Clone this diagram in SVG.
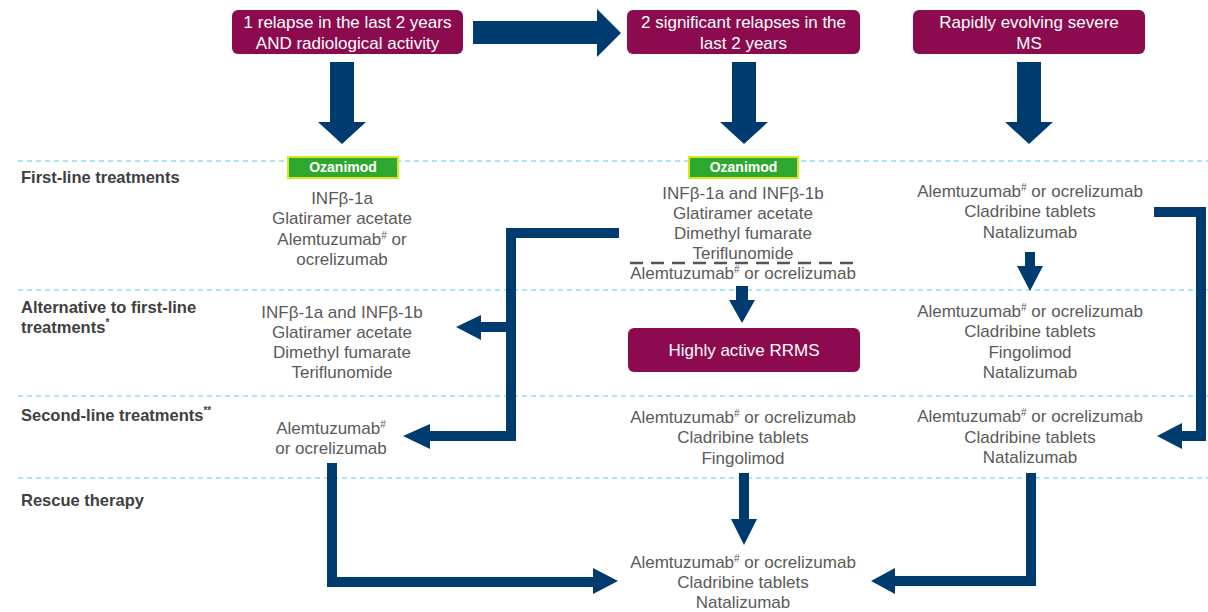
<svg xmlns="http://www.w3.org/2000/svg" width="1208" height="612" viewBox="0 0 1208 612">
<style>
.bg{fill:#ffffff}
.grid{stroke:#8fe0f0;stroke-width:1.5;stroke-dasharray:5 4;fill:none}
.hdr{fill:#8c0b4f}
.hdrt{font-family:"Liberation Sans",Arial,sans-serif;font-size:17px;fill:#ffffff;text-anchor:middle}
.lbl{font-family:"Liberation Sans",Arial,sans-serif;font-size:16.5px;font-weight:bold;fill:#404040}
.txt{font-family:"Liberation Sans",Arial,sans-serif;font-size:17px;fill:#5a5a5a;text-anchor:middle}
.sup{font-size:10px}
.oz{fill:#2ea82e;stroke:#d9e81c;stroke-width:2}
.ozt{font-family:"Liberation Sans",Arial,sans-serif;font-size:14px;font-weight:bold;fill:#ffffff;text-anchor:middle}
.arr{fill:#003b6f}
.ln{fill:none;stroke:#003b6f;stroke-width:10;stroke-linejoin:miter}
.sep{stroke:#555555;stroke-width:2.5;stroke-dasharray:13 8;fill:none}
</style>
<rect class="bg" x="0" y="0" width="1208" height="612"/>

<g id="gridlines">
<line class="grid" x1="18" y1="161" x2="1208" y2="161"/>
<line class="grid" x1="18" y1="290" x2="1208" y2="290"/>
<line class="grid" x1="18" y1="396" x2="1208" y2="396"/>
<line class="grid" x1="18" y1="478" x2="1208" y2="478"/>
</g>

<g id="row-labels">
<text class="lbl" x="21" y="183">First-line treatments</text>
<text class="lbl" x="21" y="313">Alternative to first-line</text>
<text class="lbl" x="21" y="333">treatments<tspan class="sup" dy="-7">*</tspan></text>
<text class="lbl" x="21" y="421">Second-line treatments<tspan class="sup" dy="-7">**</tspan></text>
<text class="lbl" x="21" y="506">Rescue therapy</text>
</g>

<g id="connectors">
<polygon class="arr" points="473,21 597,21 597,9 621,33 597,57 597,44 473,44"/>
<polygon class="arr" points="330,62 354,62 354,122 366,122 342,144 318,122 330,122"/>
<polygon class="arr" points="732,62 756,62 756,122 768,122 744,144 720,122 732,122"/>
<polygon class="arr" points="1017,62 1041,62 1041,122 1053,122 1029,144 1005,122 1017,122"/>
<polygon class="arr" points="736,286 748,286 748,300 755,300 742,323 729,300 736,300"/>
<polygon class="arr" points="1025,252 1035,252 1035,266 1043,266 1030,291 1017,266 1025,266"/>
<polygon class="arr" points="739,473 749,473 749,519 757,519 744,545 731,519 739,519"/>
<path class="ln" d="M619,233 H511 V436 H428"/>
<path class="ln" d="M511,327 H478"/>
<polygon class="arr" points="481,315 456,327 481,340"/>
<polygon class="arr" points="430,424 403,436 430,449"/>
<path class="ln" d="M1154,212 H1201 V436 H1180"/>
<polygon class="arr" points="1182,423 1157,436 1182,449"/>
<path class="ln" d="M332,463 V582 H595"/>
<polygon class="arr" points="593,568 618,581 593,594"/>
<path class="ln" d="M1031,473 V581 H893"/>
<polygon class="arr" points="895,568 871,581 895,594"/>
</g>

<g id="node-crit1">
<rect class="hdr" x="232" y="10" width="231" height="44" rx="6"/>
<text class="hdrt" x="347.5" y="28">1 relapse in the last 2 years</text>
<text class="hdrt" x="347.5" y="49">AND radiological activity</text>
</g>
<g id="node-crit2">
<rect class="hdr" x="627" y="10" width="233" height="44" rx="6"/>
<text class="hdrt" x="743.5" y="28">2 significant relapses in the</text>
<text class="hdrt" x="743.5" y="49">last 2 years</text>
</g>
<g id="node-crit3">
<rect class="hdr" x="913" y="10" width="232" height="44" rx="6"/>
<text class="hdrt" x="1029" y="28">Rapidly evolving severe</text>
<text class="hdrt" x="1029" y="49">MS</text>
</g>

<g id="node-c1-first">
<rect class="oz" x="288" y="157" width="110" height="21"/>
<text class="ozt" x="343" y="172">Ozanimod</text>
<text class="txt" x="342" y="204">INFβ-1a</text>
<text class="txt" x="342" y="224">Glatiramer acetate</text>
<text class="txt" x="342" y="245">Alemtuzumab<tspan class="sup" dy="-6">#</tspan><tspan dy="6"> or</tspan></text>
<text class="txt" x="342" y="265">ocrelizumab</text>
</g>

<g id="node-c2-first">
<rect class="oz" x="689" y="157" width="109" height="21"/>
<text class="ozt" x="743.5" y="172">Ozanimod</text>
<text class="txt" x="743" y="199">INFβ-1a and INFβ-1b</text>
<text class="txt" x="743" y="219">Glatiramer acetate</text>
<text class="txt" x="743" y="239">Dimethyl fumarate</text>
<text class="txt" x="743" y="259">Teriflunomide</text>
<line class="sep" x1="630" y1="263" x2="857" y2="263"/>
<text class="txt" x="743" y="279">Alemtuzumab<tspan class="sup" dy="-6">#</tspan><tspan dy="6"> or ocrelizumab</tspan></text>
</g>

<g id="node-c3-first">
<text class="txt" x="1030" y="197">Alemtuzumab<tspan class="sup" dy="-6">#</tspan><tspan dy="6"> or ocrelizumab</tspan></text>
<text class="txt" x="1030" y="217">Cladribine tablets</text>
<text class="txt" x="1030" y="238">Natalizumab</text>
</g>

<g id="node-c1-alt">
<text class="txt" x="342" y="318">INFβ-1a and INFβ-1b</text>
<text class="txt" x="342" y="338">Glatiramer acetate</text>
<text class="txt" x="342" y="358">Dimethyl fumarate</text>
<text class="txt" x="342" y="378">Teriflunomide</text>
</g>

<g id="node-rrms">
<rect class="hdr" x="628" y="328" width="232" height="44" rx="6"/>
<text class="hdrt" x="744" y="356">Highly active RRMS</text>
</g>

<g id="node-c3-alt">
<text class="txt" x="1030" y="317">Alemtuzumab<tspan class="sup" dy="-6">#</tspan><tspan dy="6"> or ocrelizumab</tspan></text>
<text class="txt" x="1030" y="337">Cladribine tablets</text>
<text class="txt" x="1030" y="358">Fingolimod</text>
<text class="txt" x="1030" y="378">Natalizumab</text>
</g>

<g id="node-c1-second">
<text class="txt" x="331" y="434">Alemtuzumab<tspan class="sup" dy="-6">#</tspan></text>
<text class="txt" x="331" y="454">or ocrelizumab</text>
</g>

<g id="node-c2-second">
<text class="txt" x="743" y="423">Alemtuzumab<tspan class="sup" dy="-6">#</tspan><tspan dy="6"> or ocrelizumab</tspan></text>
<text class="txt" x="743" y="443">Cladribine tablets</text>
<text class="txt" x="743" y="464">Fingolimod</text>
</g>

<g id="node-c3-second">
<text class="txt" x="1030" y="422">Alemtuzumab<tspan class="sup" dy="-6">#</tspan><tspan dy="6"> or ocrelizumab</tspan></text>
<text class="txt" x="1030" y="443">Cladribine tablets</text>
<text class="txt" x="1030" y="463">Natalizumab</text>
</g>

<g id="node-rescue">
<text class="txt" x="743" y="568">Alemtuzumab<tspan class="sup" dy="-6">#</tspan><tspan dy="6"> or ocrelizumab</tspan></text>
<text class="txt" x="743" y="588">Cladribine tablets</text>
<text class="txt" x="743" y="608">Natalizumab</text>
</g>
</svg>
